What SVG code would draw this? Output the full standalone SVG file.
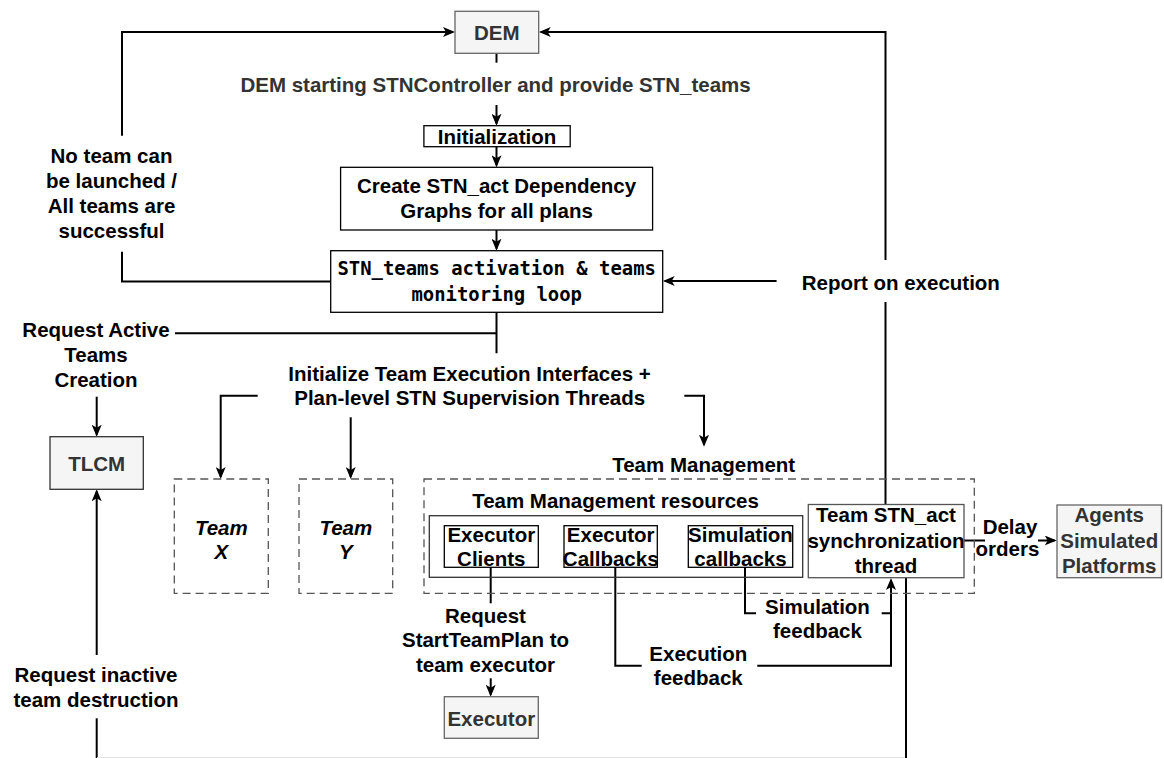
<svg xmlns="http://www.w3.org/2000/svg" width="1164" height="758" viewBox="0 0 1164 758">
  <defs>
    <marker id="arrow" markerUnits="userSpaceOnUse" markerWidth="12" markerHeight="10" viewBox="0 0 12 10" refX="10" refY="5" orient="auto">
      <path d="M0,0 L12,5 L0,10 L3,5 Z" fill="#000"/>
    </marker>
    <style>
      text { font-family: "Liberation Sans", Arial, sans-serif; font-weight: bold; font-size: 20.5px; fill: #000; text-anchor: middle; }
      .mono { font-family: "DejaVu Sans Mono", "Liberation Mono", monospace; font-size: 18.9px; }
      .ext { fill: #333; }
      .ital { font-style: italic; }
      .extbox { fill: #f5f5f5; stroke: #666; stroke-width: 1.3; }
      .box { fill: #fff; stroke: #000; stroke-width: 1.3; }
      .inner { fill: none; stroke: #000; stroke-width: 1.3; }
      .dash { fill: none; stroke: #555; stroke-width: 1.3; stroke-dasharray: 8 5; }
      .edge { fill: none; stroke: #000; stroke-width: 2; }
      .arr { marker-end: url(#arrow); }
    </style>
  </defs>

  <rect width="1164" height="758" fill="#fff"/>

  <!-- connectors -->
  <g id="connectors">
    <path class="edge arr" d="M122,135.7 V32 H453"/>
    <path class="edge" d="M122,251.7 V281.5 H330.7"/>
    <path class="edge" d="M496.5,53.3 V62.7"/>
    <path class="edge arr" d="M496.5,105 V123.7"/>
    <path class="edge arr" d="M496.5,146.7 V165.3"/>
    <path class="edge arr" d="M496.5,230 V248.7"/>
    <path class="edge" d="M496.5,312.3 V353.3 M175,333.3 H496.5"/>
    <path class="edge arr" d="M96.7,396.7 V434.7"/>
    <path class="edge arr" d="M96.7,655 V491.3"/>
    <path class="edge" d="M96.7,718.3 V758"/>
    <path d="M97,757.5 H906" stroke="#e4e4e4" stroke-width="1" fill="none"/>
    <path class="edge arr" d="M257.7,395.7 H220.7 V477"/>
    <path class="edge arr" d="M350.7,417.3 V477"/>
    <path class="edge arr" d="M684.3,395.7 H704 V444.7"/>
    <path class="edge arr" d="M885.5,260 V32 H540.7"/>
    <path class="edge" d="M885.5,302 V504.3"/>
    <path class="edge arr" d="M776.6,281 H664.7"/>
    <path class="edge" d="M490.7,567.3 V603.3"/>
    <path class="edge arr" d="M490.7,678.3 V694.7"/>
    <path class="edge" d="M615.3,567.3 V665.7 H641.7"/>
    <path class="edge arr" d="M757.3,665.7 H891 V580"/>
    <path class="edge" d="M745,567.3 V613.3 H756 M881.7,613.3 H891"/>
    <path class="edge" d="M906,577.7 V758"/>
    <path class="edge" d="M964,540.5 H985"/>
    <path class="edge arr" d="M1038,540.5 H1054.7"/>
  </g>

  <!-- edge labels -->
  <g id="labels">
    <text class="ext" x="495.6" y="91.5">DEM starting STNController and provide STN_teams</text>
    <text x="111.5" y="163.3">No team can</text>
    <text x="111.5" y="188.3">be launched /</text>
    <text x="111.5" y="213.3">All teams are</text>
    <text x="111.5" y="238.3">successful</text>
    <text x="900.8" y="290">Report on execution</text>
    <text x="96" y="336.7">Request Active</text>
    <text x="96" y="361.7">Teams</text>
    <text x="96" y="386.7">Creation</text>
    <text x="469.5" y="381">Initialize Team Execution Interfaces +</text>
    <text x="469.7" y="405">Plan-level STN Supervision Threads</text>
    <text x="96" y="681.7">Request inactive</text>
    <text x="96" y="706.7">team destruction</text>
    <text x="485.5" y="622.7">Request</text>
    <text x="485.5" y="647.3">StartTeamPlan to</text>
    <text x="485.5" y="671.7">team executor</text>
    <text x="698.3" y="661">Execution</text>
    <text x="698.3" y="685">feedback</text>
    <text x="817.5" y="614.3">Simulation</text>
    <text x="817.5" y="638.3">feedback</text>
    <text x="1010" y="533.5">Delay</text>
    <text x="1007.5" y="555.5">orders</text>
  </g>

  <g id="dem">
    <rect class="extbox" x="455" y="11.3" width="83.7" height="42"/>
    <text class="ext" x="496.8" y="40">DEM</text>
  </g>

  <g id="initialization">
    <rect class="box" x="423.9" y="125.7" width="146.3" height="21"/>
    <text x="497" y="144">Initialization</text>
  </g>

  <g id="create-graphs">
    <rect class="box" x="340.6" y="167.3" width="312" height="62.7"/>
    <text x="496.6" y="193.3">Create STN_act Dependency</text>
    <text x="496.6" y="218.3">Graphs for all plans</text>
  </g>

  <g id="activation-loop">
    <rect class="box" x="330.7" y="250.7" width="332" height="61.6"/>
    <text class="mono" x="496.7" y="275">STN_teams activation &amp; teams</text>
    <text class="mono" x="496.7" y="301.3">monitoring loop</text>
  </g>

  <g id="tlcm">
    <rect class="extbox" x="50" y="436.7" width="93.3" height="52.6" style="stroke:#333"/>
    <text class="ext" x="96.7" y="470.7">TLCM</text>
  </g>

  <g id="team-x">
    <rect class="dash" x="174.3" y="479" width="94" height="114.3"/>
    <text class="ital" x="221.3" y="535">Team</text>
    <text class="ital" x="221.3" y="559.3">X</text>
  </g>

  <g id="team-y">
    <rect class="dash" x="299" y="479" width="93.7" height="114.3"/>
    <text class="ital" x="345.8" y="535">Team</text>
    <text class="ital" x="345.8" y="559.3">Y</text>
  </g>

  <g id="team-management">
    <text x="703.7" y="471.7">Team Management</text>
    <rect class="dash" x="424" y="479" width="550.3" height="114.3"/>
  </g>

  <g id="team-management-resources">
    <text x="615.5" y="508.3">Team Management resources</text>
    <rect class="inner" x="429.3" y="515.7" width="373.4" height="61.6" style="stroke:#333"/>
  </g>

  <g id="executor-clients">
    <rect class="inner" x="444.3" y="525.7" width="94" height="41.6"/>
    <text x="491.3" y="541.7">Executor</text>
    <text x="491.3" y="566">Clients</text>
  </g>

  <g id="executor-callbacks">
    <rect class="inner" x="564" y="525.7" width="93.3" height="41.6"/>
    <text x="610.7" y="541.7">Executor</text>
    <text x="610.7" y="566">Callbacks</text>
  </g>

  <g id="simulation-callbacks">
    <rect class="inner" x="688.3" y="525.7" width="104.4" height="41.6"/>
    <text x="740.5" y="541.7">Simulation</text>
    <text x="740.5" y="566">callbacks</text>
  </g>

  <g id="sync-thread">
    <rect class="box" x="808.3" y="504.5" width="155.7" height="73.2" style="stroke:#555"/>
    <text x="886" y="522.3">Team STN_act</text>
    <text x="886" y="547.7">synchronization</text>
    <text x="886" y="573.3">thread</text>
  </g>

  <g id="executor">
    <rect class="extbox" x="444.3" y="696.7" width="94" height="41.6"/>
    <text class="ext" x="491.3" y="726">Executor</text>
  </g>

  <g id="agents">
    <rect class="extbox" x="1057" y="505" width="104.5" height="72.7"/>
    <text class="ext" x="1109.2" y="522.3">Agents</text>
    <text class="ext" x="1109.2" y="547.7">Simulated</text>
    <text class="ext" x="1109.2" y="572.7">Platforms</text>
  </g>
</svg>
